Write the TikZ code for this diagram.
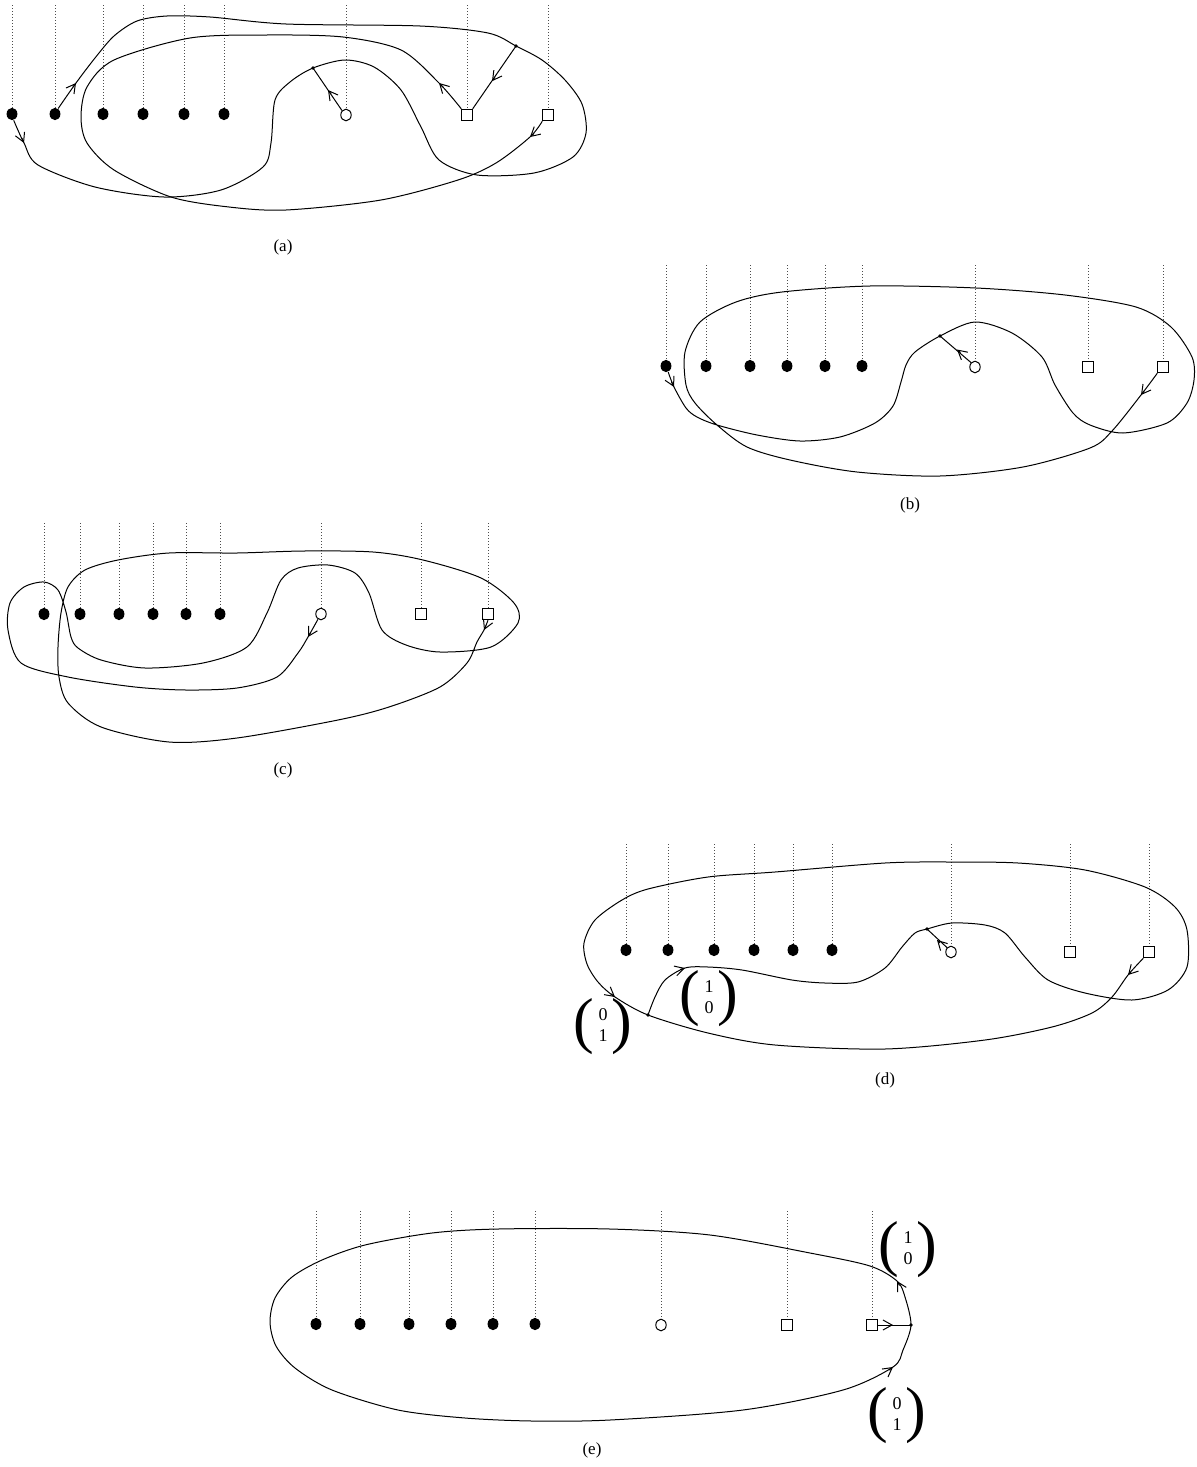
\documentclass[tikz,border=0pt]{standalone}
\usepackage{fontspec}
\setmainfont{Liberation Serif}
\usetikzlibrary{shapes.geometric,arrows.meta}
\newcommand{\bigpar}[1]{\vcenter{\hbox{\fontsize{31}{31}\selectfont #1}}}
\newcommand{\colvec}[2]{\ensuremath{\bigpar{(}\vcenter{\hbox{\begin{tabular}{@{\hspace{2pt}}c@{\hspace{2pt}}}#1\\#2\end{tabular}}}\bigpar{)}}}
\begin{document}
\begin{tikzpicture}[x=0.5pt,y=-0.5pt,
  fdot/.style={ellipse,fill=black,inner sep=0pt,minimum width=5.4pt,minimum height=6.2pt},
  odot/.style={ellipse,draw=black,line width=0.5pt,inner sep=0pt,minimum width=5.2pt,minimum height=5.8pt},
  sqr/.style={rectangle,draw=black,line width=0.5pt,inner sep=0pt,minimum width=5.2pt,minimum height=5.7pt},
  jdot/.style={circle,fill=black,inner sep=0pt,minimum size=1.8pt},
  strand/.style={line width=0.5pt},
  vline/.style={densely dotted,line width=0.5pt,black!70},
  tipseg/.style={line width=0.5pt,-{Straight Barb[length=4.5pt,width=5pt]}},
  captext/.style={font=\fontsize{8.5}{10}\selectfont},
  vec/.style={font=\fontsize{9}{10.5}\selectfont,inner sep=0pt},
]
\useasboundingbox (0,0) rectangle (1196,1467);

% ---------------- (a) ----------------
\foreach \n/\x in {1/12,2/55,3/103,4/143,5/184,6/224}{
  \node[fdot] (a\n) at (\x,114) {};
  \draw[vline] (\x,5) -- (a\n);
}
\node[odot] (ac) at (346,115) {};
\node[sqr] (as1) at (467,115) {};
\node[sqr] (as2) at (548,115) {};
\draw[vline] (346,5) -- (ac);
\draw[vline] (467,5) -- (as1);
\draw[vline] (548,5) -- (as2);
\coordinate (aj1) at (313,68);
\coordinate (aj2) at (516,46);
\draw[strand] plot[smooth] coordinates {(a2.60) (76,83) (95,58) (114,36) (137,21) (167,16) (210,17) (286,24) (420,26) (488,33) (aj2) (542,60) (565,80) (582,104) (586,133) (573,157) (534,173) (477,175) (439,160) (421,127) (401,90) (374,67) (345,60) (aj1) (290,82) (275,100) (271,143) (263,167) (221,190) (164,197) (95,187) (38,165) (24,143) (a1.-75)};
\draw[strand] plot[smooth] coordinates {(as1.north west) (439,83) (401,50) (343,37) (267,35) (190,38) (114,60) (87,87) (81,117) (87,143) (114,170) (171,197) (229,207) (286,210) (381,200) (458,180) (496,163) (530,137) (as2.south west)};
\draw[strand] (as1.north east) -- (aj2);
\draw[strand] (ac.north west) -- (aj1);
\node[jdot] (aj1d) at (aj1) {};
\node[jdot] (aj2d) at (aj2) {};
\draw[tipseg] (21.8,138) -- (24,143);
\draw[tipseg] (73,87) -- (76,83);
\draw[tipseg] (443,87) -- (439,83);
\draw[tipseg] (534,133.5) -- (530,137);
\draw[tipseg] (494.9,77.2) -- (492,81.2);
\draw[tipseg] (331,94) -- (328,90);
\node[captext] (capa) at (283,247) {(a)};

% ---------------- (b) ----------------
\foreach \n/\x in {1/666,2/706,3/750,4/787,5/825,6/862}{
  \node[fdot] (b\n) at (\x,366) {};
  \draw[vline] (\x,265) -- (b\n);
}
\node[odot] (bc) at (975,367) {};
\node[sqr] (bs1) at (1088,367) {};
\node[sqr] (bs2) at (1163,367) {};
\draw[vline] (975,265) -- (bc);
\draw[vline] (1088,265) -- (bs1);
\draw[vline] (1163,265) -- (bs2);
\coordinate (bj) at (940,336);
\draw[strand] plot[smooth] coordinates {(b1.-70) (674,387) (686,408) (697,417) (717,425) (757,435) (800,441) (840,437) (875,423) (893,406) (901,382) (906,365) (915,352) (bj) (975,322) (1012,333) (1042,357) (1055,385) (1073,413) (1090,425) (1123,433) (1167,423) (1187,403) (1194,380) (1192,357) (1171,327) (1136,307) (1065,295) (976,288) (870,286) (782,292) (736,302) (700,322) (685,352) (686,385) (695,403) (717,425) (747,447) (790,460) (857,472) (940,476) (1023,467) (1090,448) (1112,431) (1141,395) (bs2.south west)};
\draw[strand] (bc.north west) -- (bj);
\node[jdot] (bjd) at (bj) {};
\draw[tipseg] (671.5,382) -- (674,387);
\draw[tipseg] (1144,391) -- (1141,395);
\draw[tipseg] (960.5,352.5) -- (957,349.5);
\node[captext] (capb) at (910,505) {(b)};

% ---------------- (c) ----------------
\foreach \n/\x in {1/44,2/80,3/119,4/153,5/186,6/220}{
  \node[fdot] (c\n) at (\x,614) {};
  \draw[vline] (\x,523) -- (c\n);
}
\node[odot] (cc) at (321,614) {};
\node[sqr] (cs1) at (421,614) {};
\node[sqr] (cs2) at (488,614) {};
\draw[vline] (321,523) -- (cc);
\draw[vline] (421,523) -- (cs1);
\draw[vline] (488,523) -- (cs2);
\draw[strand] plot[smooth] coordinates {(cc.-120) (308,637) (298,653) (277,677) (237,688) (186,690) (135,687) (68,677) (21,663) (8,630) (10,603) (24,587) (44,582) (58,590) (66,612) (71,637) (78,648) (101,660) (145,668) (203,663) (247,647) (267,613) (281,580) (298,568) (328,565) (355,573) (369,593) (382,630) (406,645) (440,652) (491,647) (518,623) (514,603) (481,578) (423,560) (373,552) (304,551) (237,553) (169,553) (118,560) (85,570) (68,587) (61,613) (58,647) (59,677) (68,703) (101,727) (169,742) (237,738) (338,720) (389,707) (440,687) (467,663) (477,642) (484,630) (cs2.south)};
\draw[tipseg] (310.5,632.7) -- (308,637);
\draw[tipseg] (486,625.5) -- (484,630);
\node[captext] (capc) at (283,770) {(c)};

% ---------------- (d) ----------------
\foreach \n/\x in {1/626,2/668,3/714,4/754,5/793,6/832}{
  \node[fdot] (d\n) at (\x,950) {};
  \draw[vline] (\x,844) -- (d\n);
}
\node[odot] (dc) at (951,952) {};
\node[sqr] (ds1) at (1070,952) {};
\node[sqr] (ds2) at (1149,952) {};
\draw[vline] (951,844) -- (dc);
\draw[vline] (1070,844) -- (ds1);
\draw[vline] (1149,844) -- (ds2);
\coordinate (dj1) at (648,1015);
\coordinate (dj2) at (927,929);
\draw[strand] plot[smooth] coordinates {(ds2.south west) (1128,975) (1112,997) (1092,1013) (1052,1027) (985,1040) (885,1049) (775,1045) (708,1033) (dj1) (615,997) (598,982) (587,964) (584,943) (595,920) (622,900) (648,889) (708,877) (775,872) (885,863) (952,862) (1018,863) (1085,870) (1145,887) (1175,907) (1187,930) (1187,967) (1168,990) (1132,1000) (1085,993) (1048,980) (1025,957) (1005,933) (985,925) (952,923) (dj2) (915,933) (902,947) (885,968) (858,982) (825,983) (792,980) (742,970) (708,967) (685,968) (665,980) (655,997) (dj1)};
\draw[strand] (dc.north west) -- (dj2);
\node[jdot] (dj1d) at (dj1) {};
\node[jdot] (dj2d) at (dj2) {};
\draw[tipseg] (611,993.8) -- (615,997);
\draw[tipseg] (680,969.5) -- (685,968);
\draw[tipseg] (940,943) -- (937,940);
\draw[tipseg] (1131,971.8) -- (1128,975);
\node[vec] (d10) at (709,999) {\colvec{1}{0}};
\node[vec] (d01) at (603,1027) {\colvec{0}{1}};
\node[captext] (capd) at (885,1080) {(d)};

% ---------------- (e) ----------------
\foreach \n/\x in {1/316,2/360,3/409,4/451,5/493,6/535}{
  \node[fdot] (e\n) at (\x,1324) {};
  \draw[vline] (\x,1211) -- (e\n);
}
\node[odot] (ec) at (661,1325) {};
\node[sqr] (es1) at (787,1325) {};
\node[sqr] (es2) at (872,1325) {};
\draw[vline] (661,1211) -- (ec);
\draw[vline] (787,1211) -- (es1);
\draw[vline] (872,1211) -- (es2);
\coordinate (ej) at (911,1325);
\draw[strand] plot[smooth cycle] coordinates {(ej) (905,1297) (897,1281) (870,1266) (810,1253) (710,1235) (610,1229) (498,1229) (432,1233) (365,1245) (322,1260) (292,1277) (275,1298) (270,1322) (276,1346) (295,1368) (332,1390) (398,1410) (465,1418) (532,1421) (610,1420) (743,1410) (843,1390) (893,1367) (903,1350)};
\draw[strand] (es2.east) -- (ej);
\node[jdot] (ejd) at (ej) {};
\draw[tipseg] (899.5,1285.5) -- (897,1281);
\draw[tipseg] (889,1370) -- (893,1367);
\draw[tipseg] (888,1325) -- (893,1325);
\node[vec] (e10) at (908,1250) {\colvec{1}{0}};
\node[vec] (e01) at (897,1416) {\colvec{0}{1}};
\node[captext] (cape) at (592,1450) {(e)};
\end{tikzpicture}
\end{document}
